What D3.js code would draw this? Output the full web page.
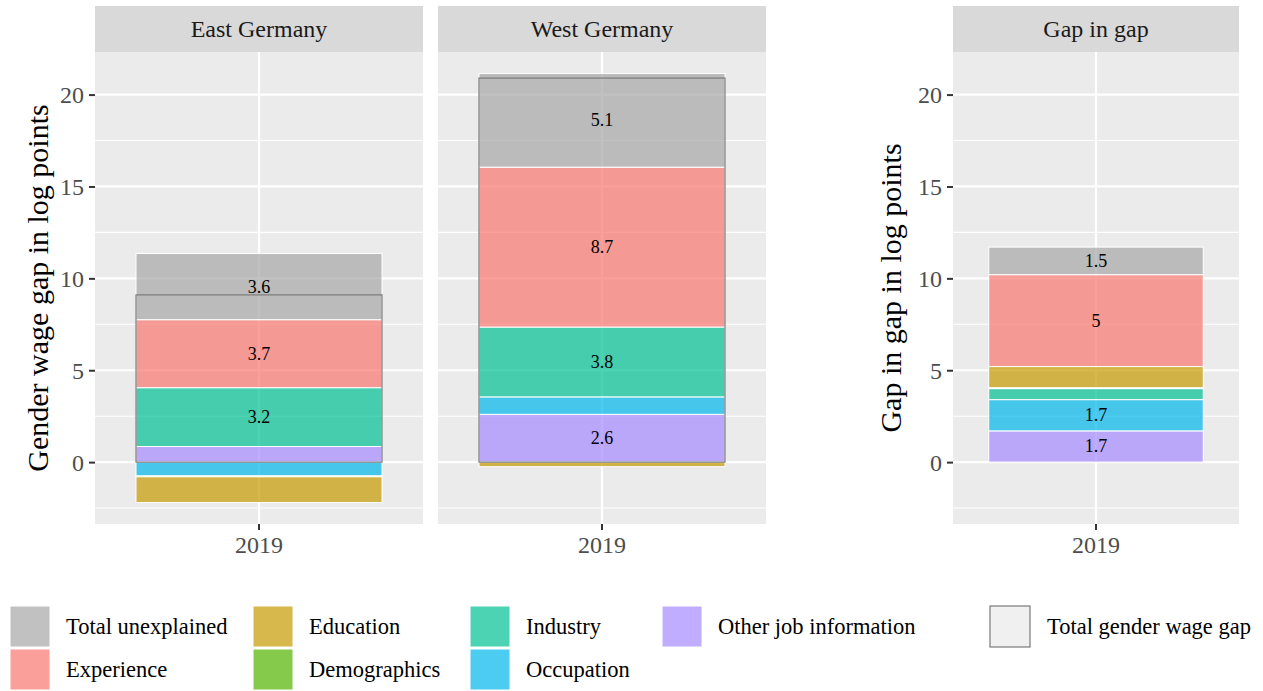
<!DOCTYPE html>
<html>
<head>
<meta charset="utf-8">
<script src="https://cdn.jsdelivr.net/npm/d3@7"></script>
<style>
  html, body { margin: 0; padding: 0; background: #ffffff; }
  svg { display: block; }
  text { font-family: "Liberation Serif", "Times New Roman", serif; }
</style>
</head>
<body>
<svg id="chart" width="1263" height="691"></svg>
<script>
// ---------------- data ----------------
const years = ["2019"];
const panels = ["East Germany", "West Germany", "Gap in gap"];
// legend order (column-major, 2 rows)
const components = ["Total unexplained", "Experience", "Education", "Demographics", "Industry", "Occupation", "Other job information"];
const totalUnexplained = [3.6, 5.1, 1.5];
const experience       = [3.7, 8.7, 5.0];
const education        = [-1.4, -0.25, 1.15];
const demographics     = [-0.05, 0.0, 0.05];
const industry         = [3.2, 3.8, 0.6];
const occupation       = [-0.75, 0.95, 1.7];
const otherJob         = [0.85, 2.6, 1.7];
const totalGap         = [9.1, 20.9, null];   // Total gender wage gap (not shown for Gap in gap)
const yTicks = [0, 5, 10, 15, 20];
const baseColors = ["#a6a6a6", "#F8766D", "#C49A00", "#53B400", "#00C094", "#00B6EB", "#A58AFF"];

// ---------------- build table ----------------
const seriesVals = [totalUnexplained, experience, education, demographics, industry, occupation, otherJob];
const rows = panels.map((p, i) => {
  const r = { panel: p };
  components.forEach((c, j) => r[c] = seriesVals[j][i]);
  return r;
});
// stacking order from zero outward
const stackOrder = components.slice().reverse();
const stacked = d3.stack().keys(stackOrder).offset(d3.stackOffsetDiverging)(rows);
const color = d3.scaleOrdinal().domain(components).range(baseColors);

// ---------------- layout ----------------
const svg = d3.select("#chart");
const panelBoxes = [
  { x0: 95, x1: 423 },
  { x0: 438, x1: 766 },
  { x0: 953, x1: 1239 }
];
const stripTop = 6, panelTop = 52, panelBottom = 524;
const font = '"Liberation Serif", "Times New Roman", serif';

// y domain from data with 5% expansion (ggplot style)
let lo = 0, hi = 0;
stacked.forEach(s => s.forEach(d => { lo = Math.min(lo, d[0], d[1]); hi = Math.max(hi, d[0], d[1]); }));
totalGap.forEach(v => { if (v != null) hi = Math.max(hi, v); });
const pad = (hi - lo) * 0.05;
const y = d3.scaleLinear().domain([lo - pad, hi + pad]).range([panelBottom, panelTop]);
const minorTicks = d3.range(Math.ceil((lo - pad) / 2.5) * 2.5, hi + pad, 2.5).filter(v => Math.abs(v % 5) > 0.01);

panels.forEach((pname, i) => {
  const box = panelBoxes[i];
  const x = d3.scaleBand().domain(years).range([box.x0, box.x1]).paddingInner(0.1).paddingOuter(0.15);
  const g = svg.append("g");

  // strip
  g.append("rect").attr("x", box.x0).attr("y", stripTop).attr("width", box.x1 - box.x0)
    .attr("height", panelTop - stripTop).attr("fill", "#d9d9d9");
  g.append("text").attr("x", (box.x0 + box.x1) / 2).attr("y", (stripTop + panelTop) / 2 + 8)
    .attr("text-anchor", "middle").attr("font-size", 24).attr("fill", "#1a1a1a").text(pname);

  // panel background
  g.append("rect").attr("x", box.x0).attr("y", panelTop).attr("width", box.x1 - box.x0)
    .attr("height", panelBottom - panelTop).attr("fill", "#ebebeb");
  // minor grid
  g.selectAll(".minor").data(minorTicks).join("line")
    .attr("x1", box.x0).attr("x2", box.x1).attr("y1", d => y(d)).attr("y2", d => y(d))
    .attr("stroke", "#ffffff").attr("stroke-width", 1.1);
  // major grid
  g.selectAll(".major").data(yTicks).join("line")
    .attr("x1", box.x0).attr("x2", box.x1).attr("y1", d => y(d)).attr("y2", d => y(d))
    .attr("stroke", "#ffffff").attr("stroke-width", 2.2);
  g.selectAll(".vgrid").data(years).join("line")
    .attr("x1", d => x(d) + x.bandwidth() / 2).attr("x2", d => x(d) + x.bandwidth() / 2)
    .attr("y1", panelTop).attr("y2", panelBottom)
    .attr("stroke", "#ffffff").attr("stroke-width", 2.2);

  // bars
  stacked.forEach(s => {
    const d = s[i];
    if (d[1] === d[0]) return;
    g.append("rect")
      .attr("x", x(years[0])).attr("width", x.bandwidth())
      .attr("y", y(Math.max(d[0], d[1]))).attr("height", Math.abs(y(d[0]) - y(d[1])))
      .attr("fill", color(s.key)).attr("fill-opacity", 0.7)
      .attr("stroke", "#ffffff").attr("stroke-width", 1);
  });

  // total gap outline
  if (totalGap[i] != null) {
    g.append("rect")
      .attr("x", x(years[0])).attr("width", x.bandwidth())
      .attr("y", y(totalGap[i])).attr("height", y(0) - y(totalGap[i]))
      .attr("fill", "none").attr("stroke", "#7a7a7a").attr("stroke-width", 1.2);
  }

  // labels
  stacked.forEach(s => {
    const d = s[i];
    const v = d[1] - d[0];
    if (Math.abs(v) < 1.5) return;
    g.append("text")
      .attr("x", x(years[0]) + x.bandwidth() / 2).attr("y", y((d[0] + d[1]) / 2) + 6)
      .attr("text-anchor", "middle").attr("font-size", 18).attr("fill", "#000000")
      .text(String(Math.round(Math.abs(v) * 10) / 10));
  });

  // x axis
  const xa = g.append("g").attr("transform", `translate(0,${panelBottom})`)
    .call(d3.axisBottom(x).tickSize(6).tickPadding(6));
  xa.select(".domain").remove();
  xa.selectAll("line").attr("stroke", "#333333").attr("stroke-width", 2);
  xa.selectAll("text").attr("font-size", 24).attr("fill", "#4d4d4d").attr("font-family", font)
    .attr("dy", "0.72em");

  // y axis (panels 0 and 2)
  if (i === 0 || i === 2) {
    const ya = g.append("g").attr("transform", `translate(${box.x0},0)`)
      .call(d3.axisLeft(y).tickValues(yTicks).tickSize(6).tickPadding(5));
    ya.select(".domain").remove();
    ya.selectAll("line").attr("stroke", "#333333").attr("stroke-width", 2);
    ya.selectAll("text").attr("font-size", 24).attr("fill", "#4d4d4d").attr("font-family", font)
      .attr("dy", "0.35em");
    const title = i === 0 ? "Gender wage gap in log points" : "Gap in gap in log points";
    const tx = i === 0 ? 37 : 890;
    svg.append("text")
      .attr("transform", `translate(${tx},${(panelTop + panelBottom) / 2}) rotate(-90)`)
      .attr("text-anchor", "middle").attr("font-size", 30).attr("fill", "#000000")
      .attr("dy", "0.35em").text(title);
  }
});

// ---------------- legend ----------------
const legendCols = [10, 253, 470, 662];
const legendRows = [606, 649];
const keyW = 40, keyH = 41;
const lg = svg.append("g");
components.forEach((c, j) => {
  const col = Math.floor(j / 2), row = j % 2;
  const kx = legendCols[col], ky = legendRows[row];
  lg.append("rect").attr("x", kx).attr("y", ky).attr("width", keyW).attr("height", keyH)
    .attr("fill", color(c)).attr("fill-opacity", 0.7).attr("stroke", "#ffffff").attr("stroke-width", 1);
  lg.append("text").attr("x", kx + 56).attr("y", ky + keyH / 2).attr("dy", "0.35em")
    .attr("font-size", 22.5).attr("fill", "#000000").text(c);
});
lg.append("rect").attr("x", 990).attr("y", 606).attr("width", keyW).attr("height", keyH)
  .attr("fill", "#f0f0f0").attr("stroke", "#7a7a7a").attr("stroke-width", 1.2);
lg.append("text").attr("x", 1047).attr("y", 606 + keyH / 2).attr("dy", "0.35em")
  .attr("font-size", 22.5).attr("fill", "#000000").text("Total gender wage gap");
</script>
</body>
</html>
